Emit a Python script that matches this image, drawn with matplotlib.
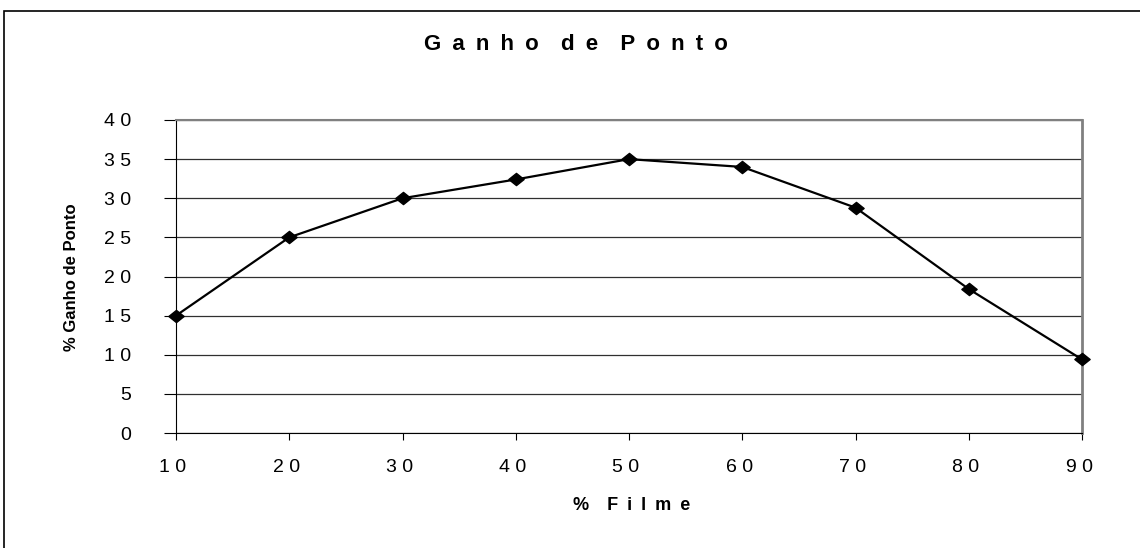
import matplotlib.pyplot as plt
import matplotlib.transforms as mtransforms
from matplotlib.patches import Rectangle
from matplotlib.path import Path

# dados
filme = [10, 20, 30, 40, 50, 60, 70, 80, 90]
ganho = [15, 25, 30, 32.4, 35, 34, 28.8, 18.4, 9.4]
y_ticks = [0, 5, 10, 15, 20, 25, 30, 35, 40]

EN = "\u2002"
EM = "\u2003"


def espacar(txt, sep=EN):
    # imita o espacamento de letras do Excel
    palavras = txt.split(" ")
    return (EM).join(sep.join(p) for p in palavras)


x_labels = [" ".join(str(v)) for v in filme]
y_labels = [" ".join(str(v)) for v in y_ticks]

plt.rcParams['font.family'] = ['Liberation Sans', 'DejaVu Sans']

fig = plt.figure(figsize=(11.4, 5.48), dpi=100)
fig.patches.append(Rectangle((4 / 1140, -0.1), 1.2, 1 - 11 / 548 + 0.1,
                             transform=fig.transFigure, fill=False,
                             edgecolor='black', linewidth=1.2))

losango = Path([(-1, 0), (0, 0.8), (1, 0), (0, -0.8), (-1, 0)],
               [Path.MOVETO, Path.LINETO, Path.LINETO, Path.LINETO, Path.CLOSEPOLY])

ax = fig.add_axes([176 / 1140, 115 / 548, 906 / 1140, 313 / 548])
ax.plot(filme, ganho, color='black', linewidth=1.6, marker=losango,
        markersize=11, markerfacecolor='black', zorder=3, clip_on=False)

ax.set_xlim(10, 90)
ax.set_ylim(0, 40)
ax.set_xticks(filme)
ax.set_xticklabels(x_labels, fontsize=14)
ax.set_yticks(y_ticks)
ax.set_yticklabels(y_labels, fontsize=14)
ax.yaxis.grid(True, color='#303030', linewidth=0.9)
ax.set_axisbelow(True)

ax.spines['left'].set_color('black')
ax.spines['bottom'].set_color('black')
ax.spines['right'].set_color('#808080')
ax.spines['top'].set_color('#808080')
ax.spines['right'].set_linewidth(2)
ax.spines['top'].set_linewidth(1.5)
ax.tick_params(axis='x', direction='out', length=5, pad=14)
ax.tick_params(axis='y', direction='out', length=9, pad=23)

desloca = mtransforms.ScaledTranslation(-3 / 100, 0, fig.dpi_scale_trans)
for lbl in ax.get_xticklabels():
    lbl.set_transform(lbl.get_transform() + desloca)

fig.text(576 / 1140, 1 - 44 / 548, espacar("Ganho de Ponto"), ha='center',
         va='center', fontsize=16, fontweight='bold')
fig.text(632 / 1140, 1 - 505 / 548, "%" + EM + EN.join("Filme"), ha='center',
         va='center', fontsize=13, fontweight='bold')
fig.text(72 / 1140, 1 - 277 / 548, "% Ganho de Ponto", ha='center',
         va='center', rotation=90, fontsize=12, fontweight='bold')

fig.savefig('out.png', dpi=100)
